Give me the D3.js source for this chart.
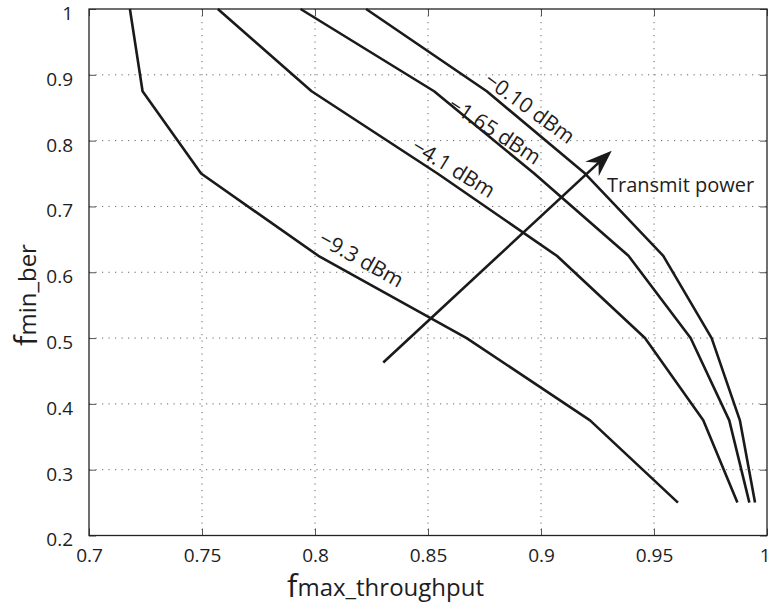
<!DOCTYPE html>
<html>
<head>
<meta charset="utf-8">
<script src="https://cdn.jsdelivr.net/npm/d3@7"></script>
<style>
    body { margin: 0; background: #fff; }
    svg { display: block; }
</style>
</head>
<body>
<svg id="chart" width="768" height="603"></svg>
<script>
// f_min_ber levels shared by every curve
var berLevels = [1, 0.875, 0.75, 0.625, 0.5, 0.375, 0.25];

// f_max_throughput at each level, one array per transmit power
var power010 = [0.8226, 0.876, 0.9195, 0.9541, 0.9755, 0.988, 0.9947];
var power165 = [0.7936, 0.8527, 0.897, 0.9387, 0.9662, 0.9833, 0.9922];
var power41 = [0.757, 0.7985, 0.8542, 0.907, 0.946, 0.9718, 0.9869];
var power93 = [0.7181, 0.7237, 0.7496, 0.8015, 0.8671, 0.9217, 0.9606];

var seriesNames = ["\u22120.10 dBm", "\u22121.65 dBm", "\u22124.1 dBm", "\u22129.3 dBm"];
var seriesValues = [power010, power165, power41, power93];

// label anchors in data units
var labelX = [0.8736, 0.8576, 0.8414, 0.8003];
var labelY = [0.8837, 0.8454, 0.7816, 0.6403];

// arrow "Transmit power" in data units
var arrowX = [0.8302, 0.9313];
var arrowY = [0.4629, 0.7848];

var xTicks = [0.7, 0.75, 0.8, 0.85, 0.9, 0.95, 1];
var yTicks = [0.2, 0.3, 0.4, 0.5, 0.6, 0.7, 0.8, 0.9, 1];

var config = {
    left: 89, right: 767, top: 9, bottom: 535.5,
    font: "'Open Sans', 'DejaVu Sans', sans-serif",
    lineColor: "#1a1a1a",
    textColor: "#1e1e1e",
    labelAngles: [36, 33, 31.5, 29],
    labelLift: 3
};

var svg = d3.select("#chart");

var x = d3.scaleLinear().domain([0.7, 1]).range([config.left, config.right]);
var y = d3.scaleLinear().domain([0.2, 1]).range([config.bottom, config.top]);

// grid
var grid = svg.append("g");
grid.selectAll(".gx").data(xTicks.slice(1, -1)).enter().append("line")
    .attr("x1", function (d) { return x(d); })
    .attr("x2", function (d) { return x(d); })
    .attr("y1", config.top)
    .attr("y2", config.bottom)
    .attr("stroke", "#666")
    .attr("stroke-width", 1)
    .attr("stroke-dasharray", "1.2,5.3");
grid.selectAll(".gy").data(yTicks.slice(1, -1)).enter().append("line")
    .attr("y1", function (d) { return y(d); })
    .attr("y2", function (d) { return y(d); })
    .attr("x1", config.left)
    .attr("x2", config.right)
    .attr("stroke", "#666")
    .attr("stroke-width", 1)
    .attr("stroke-dasharray", "1.2,5.3");

// axes with inner ticks on all four sides
var tickLen = 7;
var fmt = function (d) { return d === 1 ? "1" : String(d); };
var bottomAxis = svg.append("g")
    .attr("transform", "translate(0," + config.bottom + ")")
    .call(d3.axisBottom(x).tickValues(xTicks).tickSizeInner(-tickLen).tickSizeOuter(0).tickPadding(13).tickFormat(fmt));
svg.append("g")
    .attr("transform", "translate(0," + config.top + ")")
    .call(d3.axisTop(x).tickValues(xTicks).tickSizeInner(-tickLen).tickSizeOuter(0).tickFormat(""));
var leftAxis = svg.append("g")
    .attr("transform", "translate(" + config.left + ",0)")
    .call(d3.axisLeft(y).tickValues(yTicks).tickSizeInner(-tickLen).tickSizeOuter(0).tickPadding(16).tickFormat(fmt));
svg.append("g")
    .attr("transform", "translate(" + config.right + ",0)")
    .call(d3.axisRight(y).tickValues(yTicks).tickSizeInner(-tickLen).tickSizeOuter(0).tickFormat(""));

svg.selectAll(".tick line").attr("stroke", "#555");
svg.selectAll(".domain").remove();
svg.selectAll(".tick text")
    .style("font-family", config.font)
    .style("font-size", "19px")
    .attr("fill", config.textColor);
leftAxis.selectAll(".tick text").attr("dy", "0.55em");
// the last x label sits on the right edge
bottomAxis.selectAll(".tick text").filter(function (d) { return d === 1; })
    .attr("text-anchor", "end").attr("dx", 3);

// frame
svg.append("rect")
    .attr("x", config.left)
    .attr("y", config.top)
    .attr("width", config.right - config.left)
    .attr("height", config.bottom - config.top)
    .attr("fill", "none")
    .attr("stroke", "#222")
    .attr("stroke-width", 1.3);

// curves
var line = d3.line()
    .x(function (d) { return x(d[0]); })
    .y(function (d) { return y(d[1]); });

seriesValues.forEach(function (values, i) {
    var pts = values.map(function (v, j) { return [v, berLevels[j]]; });
    svg.append("path")
        .datum(pts)
        .attr("d", line)
        .attr("fill", "none")
        .attr("stroke", config.lineColor)
        .attr("stroke-width", 2.6)
        .attr("stroke-linejoin", "round");

    var a = config.labelAngles[i] * Math.PI / 180;
    svg.append("text")
        .attr("transform", "translate(" + (x(labelX[i]) + config.labelLift * Math.sin(a)) + "," +
            (y(labelY[i]) - config.labelLift * Math.cos(a)) + ") rotate(" + config.labelAngles[i] + ")")
        .style("font-family", config.font)
        .style("font-size", "21px")
        .attr("fill", config.textColor)
        .text(seriesNames[i]);
});

// arrow
var ax0 = x(arrowX[0]), ay0 = y(arrowY[0]), ax1 = x(arrowX[1]), ay1 = y(arrowY[1]);
var len = Math.hypot(ax1 - ax0, ay1 - ay0),
    ux = (ax1 - ax0) / len, uy = (ay1 - ay0) / len,
    nx = -uy, ny = ux;
svg.append("line")
    .attr("x1", ax0).attr("y1", ay0)
    .attr("x2", ax1 - 14 * ux).attr("y2", ay1 - 14 * uy)
    .attr("stroke", config.lineColor)
    .attr("stroke-width", 2.6);
var headL = 27, headW = 10, notch = 18;
svg.append("path")
    .attr("d", "M" + ax1 + "," + ay1 +
        "L" + (ax1 - headL * ux + headW * nx) + "," + (ay1 - headL * uy + headW * ny) +
        "L" + (ax1 - notch * ux) + "," + (ay1 - notch * uy) +
        "L" + (ax1 - headL * ux - headW * nx) + "," + (ay1 - headL * uy - headW * ny) + "Z")
    .attr("fill", config.lineColor);

svg.append("text")
    .attr("x", 607)
    .attr("y", 192)
    .style("font-family", config.font)
    .style("font-size", "20px")
    .attr("fill", config.textColor)
    .text("Transmit power");

// axis titles
var xt = svg.append("text")
    .attr("x", 287)
    .attr("y", 597)
    .style("font-family", config.font)
    .attr("fill", config.textColor);
xt.append("tspan").style("font-size", "31px").text("f");
xt.append("tspan").style("font-size", "24px").attr("dy", -1).text("max_throughput");

var yt = svg.append("text")
    .attr("transform", "translate(37,346) rotate(-90)")
    .style("font-family", config.font)
    .attr("fill", config.textColor);
yt.append("tspan").style("font-size", "31px").text("f");
yt.append("tspan").style("font-size", "24px").attr("dy", -1).text("min_ber");
</script>
</body>
</html>
